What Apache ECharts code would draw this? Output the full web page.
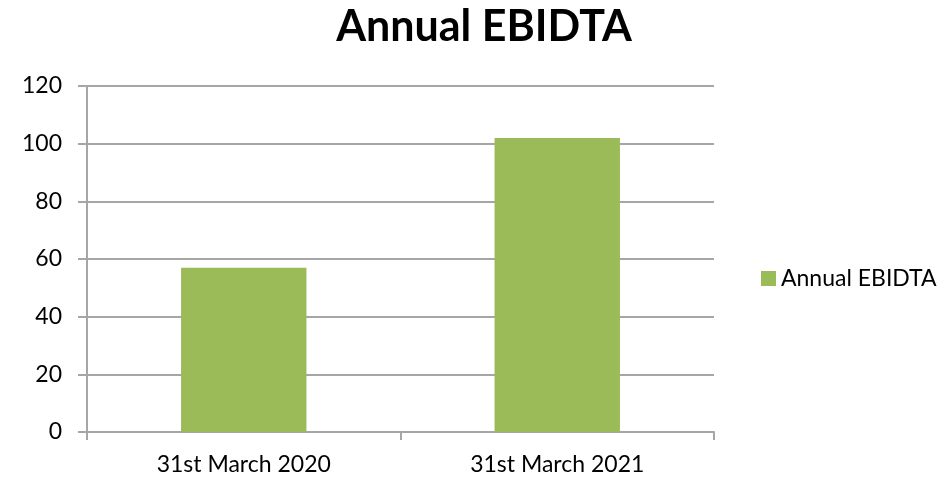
<!DOCTYPE html>
<html>
<head>
<meta charset="utf-8">
<script src="https://cdn.jsdelivr.net/npm/echarts@6/dist/echarts.min.js"></script>
<style>
  html, body { margin: 0; padding: 0; background: #fff; }
  #chart { width: 947px; height: 484px; }
</style>
</head>
<body>
<div id="chart"></div>
<script>
// Annual EBIDTA by financial year end
const categories = ['31st March 2020', '31st March 2021'];
const ebidta = [57, 102];
const seriesName = 'Annual EBIDTA';

const font = 'Lato, "Open Sans", sans-serif';
const lineColor = '#A6A6A6';

const chart = echarts.init(document.getElementById('chart'));
chart.setOption({
  animation: false,
  title: {
    text: 'Annual EBIDTA',
    left: 479,
    textAlign: 'center',
    top: 1,
    textStyle: { fontFamily: font, fontWeight: 'bold', fontSize: 43, color: '#000' }
  },
  legend: {
    data: [seriesName],
    left: 756,
    top: 262,
    icon: 'rect',
    itemWidth: 15,
    itemHeight: 15,
    itemGap: 8,
    textStyle: { fontFamily: font, fontSize: 23, color: '#000' }
  },
  grid: { left: 87, right: 233, top: 86, bottom: 52, containLabel: false },
  xAxis: {
    type: 'category',
    data: categories,
    axisLine: { lineStyle: { color: lineColor, width: 2 } },
    axisTick: { show: true, alignWithLabel: false, length: 8, lineStyle: { color: lineColor, width: 2 } },
    axisLabel: { fontFamily: font, fontSize: 23, color: '#000', margin: 21 }
  },
  yAxis: {
    type: 'value',
    min: 0,
    max: 120,
    interval: 20,
    axisLine: { show: true, lineStyle: { color: lineColor, width: 2 } },
    axisTick: { show: true, length: 9, lineStyle: { color: lineColor, width: 2 } },
    axisLabel: { fontFamily: font, fontSize: 23, color: '#000', margin: 25 },
    splitLine: { lineStyle: { color: lineColor, width: 2 } }
  },
  series: [{
    name: seriesName,
    type: 'bar',
    data: ebidta,
    barWidth: '40%',
    itemStyle: { color: '#9BBB59' }
  }]
});
</script>
</body>
</html>
